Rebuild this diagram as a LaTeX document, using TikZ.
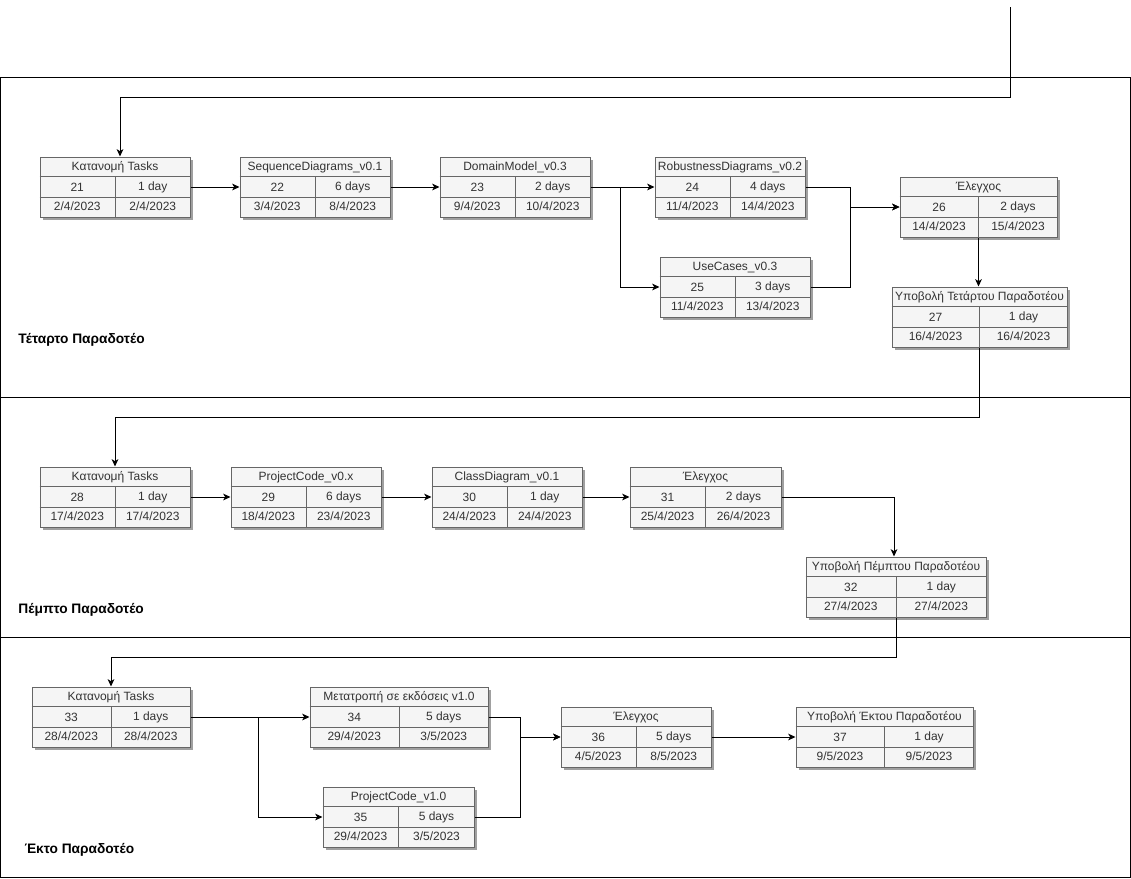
\documentclass[tikz,border=0pt]{standalone}
\usepackage{fontspec}
\setmainfont{Liberation Sans}
\usetikzlibrary{arrows.meta, calc, shadows}
\definecolor{cfill}{HTML}{F5F5F5}
\definecolor{cline}{HTML}{666666}
\definecolor{ctext}{HTML}{333333}
\tikzset{
  every picture/.style={line width=0.75pt},
  task/.style={draw=cline, fill=cfill, minimum width=0.75pt*#1, minimum height=45pt, inner sep=0pt,
    drop shadow={shadow xshift=2.2pt, shadow yshift=-2.2pt, fill=black!50, opacity=0.75}},
  task/.default=150,
  cell/.style={font=\fontsize{9}{11}\selectfont, text=ctext, inner sep=0pt},
  rule/.style={draw=cline, line width=0.75pt},
  arrow/.style={-{Stealth[length=5.5pt, width=5pt, inset=1.5pt]}, draw=black},
  lane/.style={font=\fontsize{10.3}{12}\selectfont\bfseries, anchor=west, inner sep=0pt},
}
% one task box: [width in px] name, centre, title, id, duration, start, end
\newcommand{\task}[8][150]{%
  \node[task=#1] (#2) at (#3) {};
  \draw[rule] ([yshift=-15pt]#2.north west) -- ([yshift=-15pt]#2.north east)
              ([yshift=15pt]#2.south west) -- ([yshift=15pt]#2.south east)
              ([yshift=-15pt]#2.north) -- (#2.south);
  \node[cell] (#2-t) at ([yshift=-7.9pt]#2.north) {#4};
  \path (#2.west) -- (#2.center) node[cell, midway] (#2-i) {#5};
  \path (#2.center) -- (#2.east) node[cell, midway] (#2-d) {#6};
  \path ([yshift=8.3pt]#2.south west) -- ([yshift=8.3pt]#2.south) node[cell, midway] (#2-s) {#7};
  \path ([yshift=8.3pt]#2.south) -- ([yshift=8.3pt]#2.south east) node[cell, midway] (#2-e) {#8};
}

\begin{document}
\begin{tikzpicture}[x=0.75pt, y=-0.75pt]
  \useasboundingbox (0,0) rectangle (1131,878);
  % lanes
  \draw (0.5,77) rectangle (1130,877);
  \draw (0.5,397) -- (1130,397);
  \draw (0.5,637) -- (1130,637);
  \node[lane] (lane4) at (18,340) {Τέταρτο Παραδοτέο};
  \node[lane] (lane5) at (18,610) {Πέμπτο Παραδοτέο};
  \node[lane] (lane6) at (24,850) {Έκτο Παραδοτέο};
  % fourth deliverable
  \task{t21}{115,187}{Κατανομή Tasks}{21}{1 day}{2/4/2023}{2/4/2023}
  \task{t22}{315,187}{SequenceDiagrams\_v0.1}{22}{6 days}{3/4/2023}{8/4/2023}
  \task{t23}{515,187}{DomainModel\_v0.3}{23}{2 days}{9/4/2023}{10/4/2023}
  \task{t24}{730,187}{RobustnessDiagrams\_v0.2}{24}{4 days}{11/4/2023}{14/4/2023}
  \task{t25}{735,287}{UseCases\_v0.3}{25}{3 days}{11/4/2023}{13/4/2023}
  \task[157]{t26}{978.5,207}{Έλεγχος}{26}{2 days}{14/4/2023}{15/4/2023}
  \task[175]{t27}{979.5,317}{Υποβολή Τετάρτου Παραδοτέου}{27}{1 day}{16/4/2023}{16/4/2023}
  % fifth deliverable
  \task{t28}{115,497}{Κατανομή Tasks}{28}{1 day}{17/4/2023}{17/4/2023}
  \task{t29}{306,497}{ProjectCode\_v0.x}{29}{6 days}{18/4/2023}{23/4/2023}
  \task{t30}{507,497}{ClassDiagram\_v0.1}{30}{1 day}{24/4/2023}{24/4/2023}
  \task[151]{t31}{705.5,497}{Έλεγχος}{31}{2 days}{25/4/2023}{26/4/2023}
  \task[180]{t32}{896,587}{Υποβολή Πέμπτου Παραδοτέου}{32}{1 day}{27/4/2023}{27/4/2023}
  % sixth deliverable
  \task[158]{t33}{111,717}{Κατανομή Tasks}{33}{1 days}{28/4/2023}{28/4/2023}
  \task[178]{t34}{399,717}{Μετατροπή σε εκδόσεις v1.0}{34}{5 days}{29/4/2023}{3/5/2023}
  \task[151]{t35}{398.5,817}{ProjectCode\_v1.0}{35}{5 days}{29/4/2023}{3/5/2023}
  \task{t36}{636,737}{Έλεγχος}{36}{5 days}{4/5/2023}{8/5/2023}
  \task[177]{t37}{884.5,737}{Υποβολή Έκτου Παραδοτέου}{37}{1 day}{9/5/2023}{9/5/2023}
  % connectors
  \coordinate (start) at (1010,7);
  \draw[arrow] (start) -- ++(0,90) -| ([xshift=3.75pt]t21.north);
  \draw[arrow] (t21.east) -- (t22.west);
  \draw[arrow] (t22.east) -- (t23.west);
  \draw[arrow] (t23.east) -- (t24.west);
  \draw[arrow] (t23.east) -- ++(30,0) |- (t25.west);
  \draw[arrow] (t24.east) -- ++(45,0) |- (t26.west);
  \draw[arrow] (t25.east) -- ++(40,0) |- (t26.west);
  \draw[arrow] (t26.south) -- (t26.south |- t27.north);
  \draw[arrow] (t27.south) -- ++(0,70) -| (t28.north);
  \draw[arrow] (t28.east) -- (t29.west);
  \draw[arrow] (t29.east) -- (t30.west);
  \draw[arrow] (t30.east) -- (t31.west);
  \draw[arrow] (t31.east) -| ([xshift=-1.5pt]t32.north);
  \draw[arrow] (t32.south) -- ++(0,40) -| (t33.north);
  \draw[arrow] (t33.east) -- (t34.west);
  \draw[arrow] (t33.east) -- ++(68,0) |- (t35.west);
  \draw[arrow] (t34.east) -- ++(32,0) |- (t36.west);
  \draw[arrow] (t35.east) -- ++(46,0) |- (t36.west);
  \draw[arrow] (t36.east) -- (t37.west);
\end{tikzpicture}
\end{document}
